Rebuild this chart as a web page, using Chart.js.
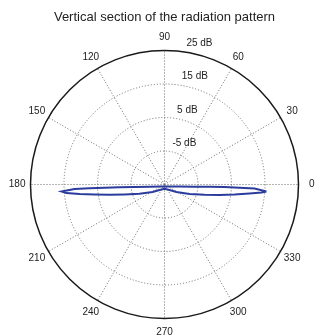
<!DOCTYPE html>
<html>
<head>
<meta charset="utf-8">
<script src="https://cdn.jsdelivr.net/npm/chart.js@4/dist/chart.umd.min.js"></script>
<style>
  html, body { margin: 0; padding: 0; background: #fff; }
  canvas { display: block; }
</style>
</head>
<body>
<canvas id="canvas" width="315" height="336"></canvas>
<script>
// pattern, traced around the loop (angle in degrees, gain in dB)
const angles = [356.1, 357.5, 357.6, 357.5, 357.1, 355.8, 352.0, 338.2, 270.0, 201.8,
                188.3, 184.8, 183.6, 183.1, 182.9, 182.9, 183.9,
                185.0, 186.4, 188.1, 190.6, 194.0, 200.4, 212.0, 227.7, 270.0,
                312.3, 328.0, 339.2, 345.6, 349.2, 351.9, 354.0, 355.3];
const gainDb = [15.5, 11.9, 7.4, 2.9, -1.5, -6.0, -10.5, -13.4, -14.4, -13.4,
                -10.5, -6.0, -1.5, 2.9, 7.4, 11.9, 15.8,
                14.4, 10.5, 6.1, 1.7, -2.7, -7.0, -10.8, -12.8, -13.7,
                -12.8, -10.8, -7.0, -2.7, 1.7, 6.1, 10.5, 14.1];

const ringTicks = [-5, 5, 15, 25];
const angleTicks = [0, 30, 60, 90, 120, 150, 180, 210, 240, 270, 300, 330];
const centerDb = -15;
const maxR = 25 - centerDb;

const points = angles.map((a, i) => {
    const r = gainDb[i] - centerDb;
    const t = a * Math.PI / 180;
    return { x: r * Math.cos(t), y: r * Math.sin(t) };
});
points.push(points[0]);

const polarGrid = {
    id: 'polarGrid',
    beforeDatasetsDraw(chart) {
        const { ctx, scales: { x, y } } = chart;
        const cx = x.getPixelForValue(0), cy = y.getPixelForValue(0);
        const px = x.getPixelForValue(maxR) - cx;
        ctx.save();
        ctx.strokeStyle = '#6a6a6a';
        ctx.lineWidth = 1;
        ctx.setLineDash([1, 2]);
        ringTicks.slice(0, -1).forEach(v => {
            const rr = x.getPixelForValue(v - centerDb) - cx;
            ctx.beginPath();
            ctx.arc(cx, cy, rr, 0, Math.PI * 2);
            ctx.stroke();
        });
        angleTicks.forEach(a => {
            const t = a * Math.PI / 180;
            ctx.beginPath();
            ctx.moveTo(cx, cy);
            ctx.lineTo(x.getPixelForValue(maxR * Math.cos(t)), y.getPixelForValue(maxR * Math.sin(t)));
            ctx.stroke();
        });
        ctx.setLineDash([]);
        ctx.strokeStyle = '#1a1a1a';
        ctx.lineWidth = 1.5;
        ctx.beginPath();
        ctx.arc(cx, cy, px, 0, Math.PI * 2);
        ctx.stroke();
        ctx.restore();
    },
    afterDraw(chart) {
        const { ctx, scales: { x, y } } = chart;
        const cx = x.getPixelForValue(0), cy = y.getPixelForValue(0);
        ctx.save();
        ctx.fillStyle = '#222';
        ctx.font = '13px "Liberation Sans", Arial, sans-serif';
        ctx.textAlign = 'center';
        ctx.textBaseline = 'middle';
        ctx.fillText('Vertical section of the radiation pattern', cx, 17);

        ctx.font = '10px "Liberation Sans", Arial, sans-serif';
        angleTicks.forEach(a => {
            const t = a * Math.PI / 180;
            const r = maxR * 1.1;
            ctx.fillText(String(a), x.getPixelForValue(r * Math.cos(t)), y.getPixelForValue(r * Math.sin(t)));
        });

        ctx.textAlign = 'left';
        ctx.textBaseline = 'bottom';
        const t82 = 82 * Math.PI / 180;
        ringTicks.forEach(v => {
            const r = (v - centerDb) + 1;
            ctx.fillText(' ' + v + ' dB', x.getPixelForValue(r * Math.cos(t82)), y.getPixelForValue(r * Math.sin(t82)));
        });
        ctx.restore();
    }
};

new Chart(document.getElementById('canvas').getContext('2d'), {
    type: 'scatter',
    data: {
        datasets: [{
            data: points,
            showLine: true,
            borderColor: '#2b3c9e',
            borderWidth: 2,
            pointRadius: 0,
            tension: 0
        }]
    },
    options: {
        responsive: false,
        animation: false,
        layout: { padding: { left: 30.5, right: 16.5, top: 50.5, bottom: 17.5 } },
        plugins: { legend: { display: false }, tooltip: { enabled: false } },
        scales: {
            x: { display: false, min: -maxR, max: maxR },
            y: { display: false, min: -maxR, max: maxR }
        }
    },
    plugins: [polarGrid]
});
</script>
</body>
</html>
